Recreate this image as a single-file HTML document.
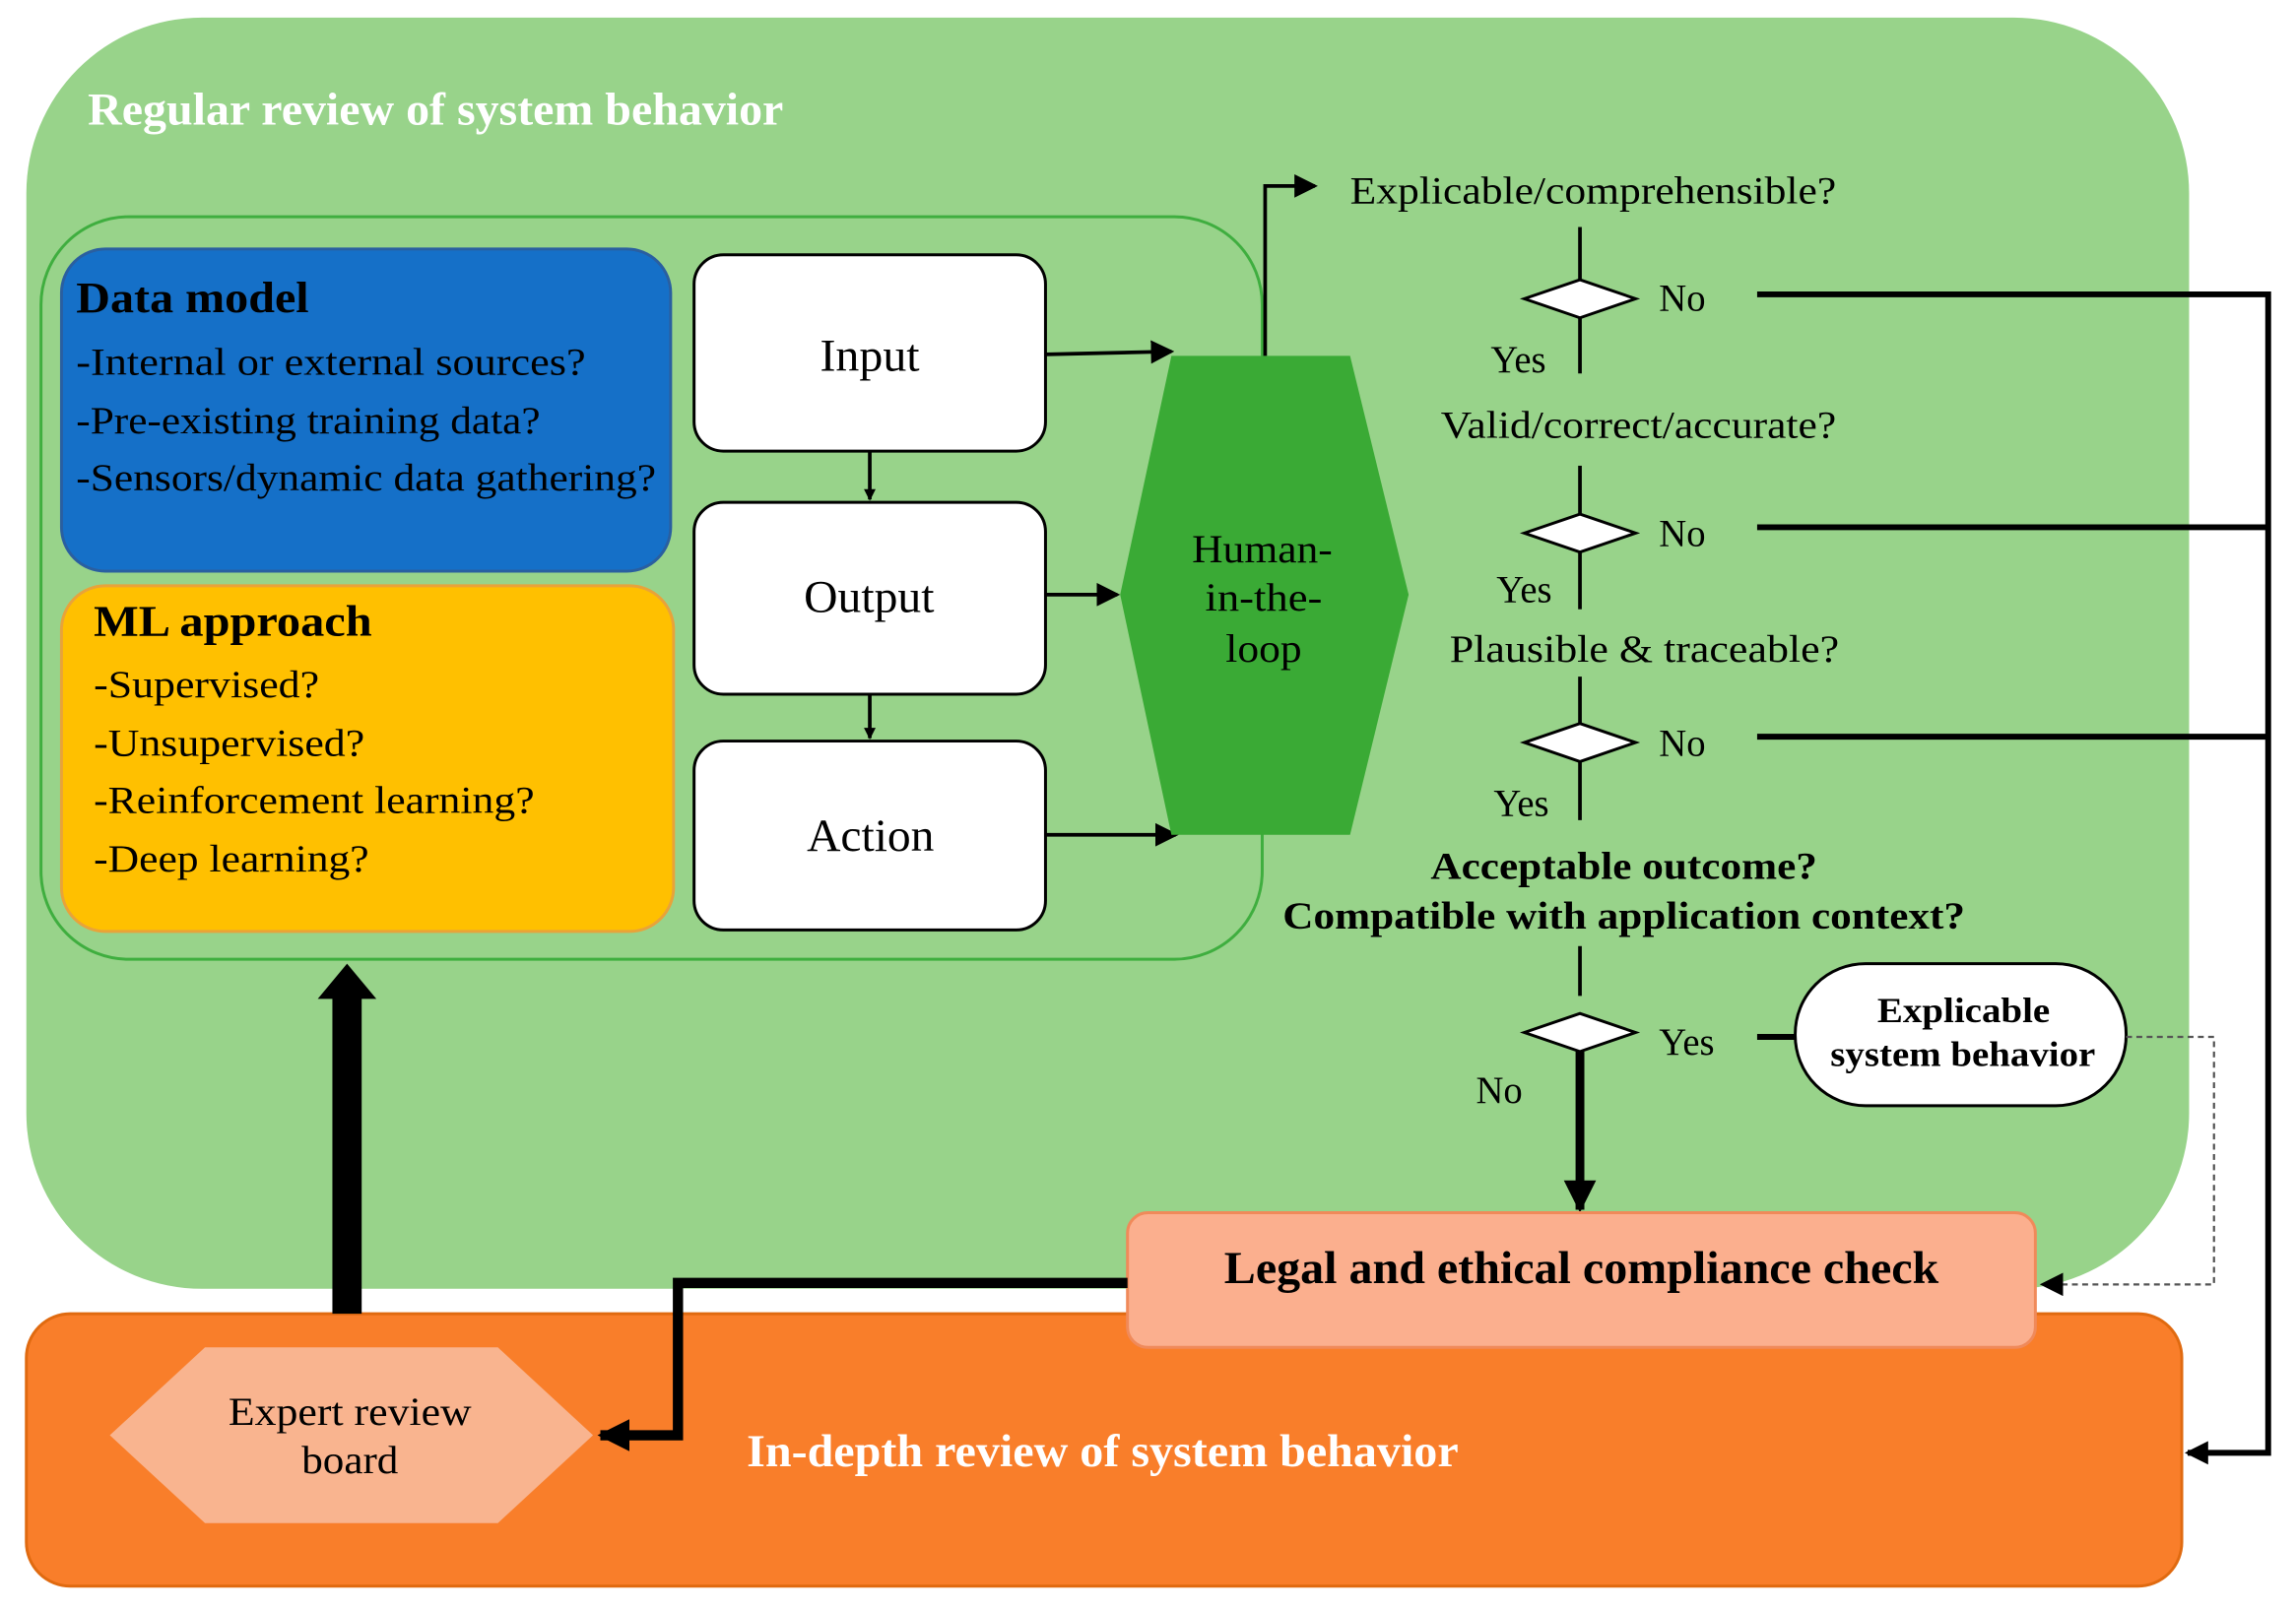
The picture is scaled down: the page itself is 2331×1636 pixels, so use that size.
<!DOCTYPE html>
<html><head><meta charset="utf-8"><style>
html,body{margin:0;padding:0;background:#fff;}
svg{display:block;}
text{font-family:"Liberation Serif",serif;}
</style></head><body>
<svg width="2331" height="1636" viewBox="0 0 1568 1100" preserveAspectRatio="none" xmlns="http://www.w3.org/2000/svg">
<defs>
<marker id="a" markerWidth="8" markerHeight="8" refX="7" refY="4" orient="auto" markerUnits="userSpaceOnUse"><path d="M0,0 L8,4 L0,8 z" fill="#000"/></marker>
<marker id="ab" markerWidth="16" markerHeight="16" refX="14" refY="8" orient="auto" markerUnits="userSpaceOnUse"><path d="M0,0 L16,8 L0,16 z" fill="#000"/></marker>
<marker id="am" markerWidth="22" markerHeight="22" refX="20" refY="11" orient="auto" markerUnits="userSpaceOnUse"><path d="M0,0 L22,11 L0,22 z" fill="#000"/></marker>
</defs>
<rect x="18" y="12" width="1477" height="868" rx="120" fill="#98D38A"/>
<text x="60" y="85" font-size="31" font-weight="bold" fill="#fff" textLength="475" lengthAdjust="spacingAndGlyphs">Regular review of system behavior</text>
<rect x="28" y="148" width="834" height="507" rx="60" fill="none" stroke="#3FAE3F" stroke-width="2"/>
<rect x="42" y="170" width="416" height="220" rx="30" fill="#1570C8" stroke="#2a5fa0" stroke-width="2"/>
<text x="52" y="213" font-size="30" font-weight="bold" textLength="159" lengthAdjust="spacingAndGlyphs">Data model</text>
<g font-size="26">
<text x="52" y="256" textLength="348" lengthAdjust="spacingAndGlyphs">-Internal or external  sources?</text>
<text x="52" y="296" textLength="317" lengthAdjust="spacingAndGlyphs">-Pre-existing training data?</text>
<text x="52" y="335" textLength="396" lengthAdjust="spacingAndGlyphs">-Sensors/dynamic data gathering?</text></g>
<rect x="42" y="400" width="418" height="236" rx="30" fill="#FFC000" stroke="#E8A33A" stroke-width="2"/>
<text x="64" y="434" font-size="30" font-weight="bold" textLength="190" lengthAdjust="spacingAndGlyphs">ML approach</text>
<g font-size="26">
<text x="64" y="476" textLength="154" lengthAdjust="spacingAndGlyphs">-Supervised?</text>
<text x="64" y="516" textLength="185" lengthAdjust="spacingAndGlyphs">-Unsupervised?</text>
<text x="64" y="555" textLength="301" lengthAdjust="spacingAndGlyphs">-Reinforcement learning?</text>
<text x="64" y="595" textLength="188" lengthAdjust="spacingAndGlyphs">-Deep learning?</text></g>
<g fill="#fff" stroke="#000" stroke-width="2">
<rect x="474" y="174" width="240" height="134" rx="20"/>
<rect x="474" y="343" width="240" height="131" rx="20"/>
<rect x="474" y="506" width="240" height="129" rx="20"/>
</g>
<g font-size="31">
<text x="560" y="253" textLength="68" lengthAdjust="spacingAndGlyphs">Input</text>
<text x="549" y="418" textLength="89" lengthAdjust="spacingAndGlyphs">Output</text>
<text x="551" y="581" textLength="87" lengthAdjust="spacingAndGlyphs">Action</text></g>
<g stroke="#000" stroke-width="2.5" fill="none">
<line x1="594" y1="308" x2="594" y2="341" marker-end="url(#a)"/>
<line x1="594" y1="474" x2="594" y2="504" marker-end="url(#a)"/>
<line x1="714" y1="242" x2="800" y2="240" marker-end="url(#ab)"/>
<line x1="714" y1="406" x2="763" y2="406" marker-end="url(#ab)"/>
<line x1="714" y1="570" x2="803" y2="570" marker-end="url(#ab)"/>
</g>
<polygon points="800,243 922,243 962,406 922,570 800,570 765,406" fill="#3AAA35"/>
<g font-size="27">
<text x="814" y="384" textLength="96" lengthAdjust="spacingAndGlyphs">Human-</text>
<text x="823" y="417" textLength="80" lengthAdjust="spacingAndGlyphs">in-the-</text>
<text x="837" y="452" textLength="52" lengthAdjust="spacingAndGlyphs">loop</text></g>
<polyline points="864,243 864,127 898,127" fill="none" stroke="#000" stroke-width="2.5" marker-end="url(#ab)"/>
<g font-size="26">
<text x="922" y="139" textLength="332" lengthAdjust="spacingAndGlyphs">Explicable/comprehensible?</text>
<text x="984" y="299" textLength="270" lengthAdjust="spacingAndGlyphs">Valid/correct/accurate?</text>
<text x="990" y="452" textLength="266" lengthAdjust="spacingAndGlyphs">Plausible &amp; traceable?</text>
<text x="1133" y="212">No</text><text x="1018" y="254">Yes</text>
<text x="1133" y="373">No</text><text x="1022" y="411">Yes</text>
<text x="1133" y="516">No</text><text x="1020" y="557">Yes</text>
<text x="1133" y="720">Yes</text><text x="1008" y="753">No</text>
</g>
<g font-size="26" font-weight="bold">
<text x="977" y="600" textLength="264" lengthAdjust="spacingAndGlyphs">Acceptable outcome?</text>
<text x="876" y="634" textLength="466" lengthAdjust="spacingAndGlyphs">Compatible with application context?</text></g>
<g stroke="#000" stroke-width="2.5" fill="none">
<line x1="1079" y1="155" x2="1079" y2="191"/><line x1="1079" y1="217" x2="1079" y2="255"/>
<line x1="1079" y1="318" x2="1079" y2="351"/><line x1="1079" y1="377" x2="1079" y2="416"/>
<line x1="1079" y1="462" x2="1079" y2="494"/><line x1="1079" y1="520" x2="1079" y2="560"/>
<line x1="1079" y1="646" x2="1079" y2="680"/>
</g>
<g fill="#fff" stroke="#000" stroke-width="2">
<polygon points="1041,204 1079,191 1117,204 1079,217"/>
<polygon points="1041,364 1079,351 1117,364 1079,377"/>
<polygon points="1041,507 1079,494 1117,507 1079,520"/>
<polygon points="1041,705 1079,692 1117,705 1079,718"/>
</g>
<line x1="1079" y1="718" x2="1079" y2="826" stroke="#000" stroke-width="6" marker-end="url(#am)"/>
<line x1="1200" y1="708" x2="1226" y2="708" stroke="#000" stroke-width="4"/>
<rect x="1226" y="658" width="226" height="97" rx="48" fill="#fff" stroke="#000" stroke-width="2"/>
<g font-size="24" font-weight="bold">
<text x="1282" y="698" textLength="118" lengthAdjust="spacingAndGlyphs">Explicable</text>
<text x="1250" y="728" textLength="181" lengthAdjust="spacingAndGlyphs">system behavior</text></g>
<polyline points="1452,708 1512,708 1512,877 1395,877" fill="none" stroke="#555" stroke-width="1.5" stroke-dasharray="4,3" marker-end="url(#ab)"/>
<g stroke="#000" stroke-width="4" fill="none">
<line x1="1200" y1="201" x2="1549" y2="201"/>
<line x1="1200" y1="360" x2="1549" y2="360"/>
<line x1="1200" y1="503" x2="1549" y2="503"/>
<polyline points="1549,199 1549,992 1494,992" marker-end="url(#ab)"/>
</g>
<rect x="18" y="897" width="1472" height="186" rx="30" fill="#F97E2A" stroke="#E06A10" stroke-width="2"/>
<rect x="770" y="828" width="620" height="92" rx="14" fill="#FBAF8E" stroke="#F08A5A" stroke-width="2"/>
<text x="836" y="876" font-size="31" font-weight="bold" textLength="488" lengthAdjust="spacingAndGlyphs">Legal and ethical compliance check</text>
<polygon points="140,920 340,920 405,980 340,1040 140,1040 75,980" fill="#F9B48F"/>
<g font-size="27">
<text x="156" y="973" textLength="166" lengthAdjust="spacingAndGlyphs">Expert review</text>
<text x="206" y="1006" textLength="66" lengthAdjust="spacingAndGlyphs">board</text></g>
<text x="510" y="1001" font-size="31" font-weight="bold" fill="#fff" textLength="486" lengthAdjust="spacingAndGlyphs">In-depth review of system behavior</text>
<polyline points="770,876 463,876 463,980 410,980" fill="none" stroke="#000" stroke-width="7" marker-end="url(#am)"/>
<rect x="227" y="680" width="20" height="217" fill="#000"/>
<polygon points="217,682 237,658 257,682" fill="#000"/>
</svg>
</body></html>
